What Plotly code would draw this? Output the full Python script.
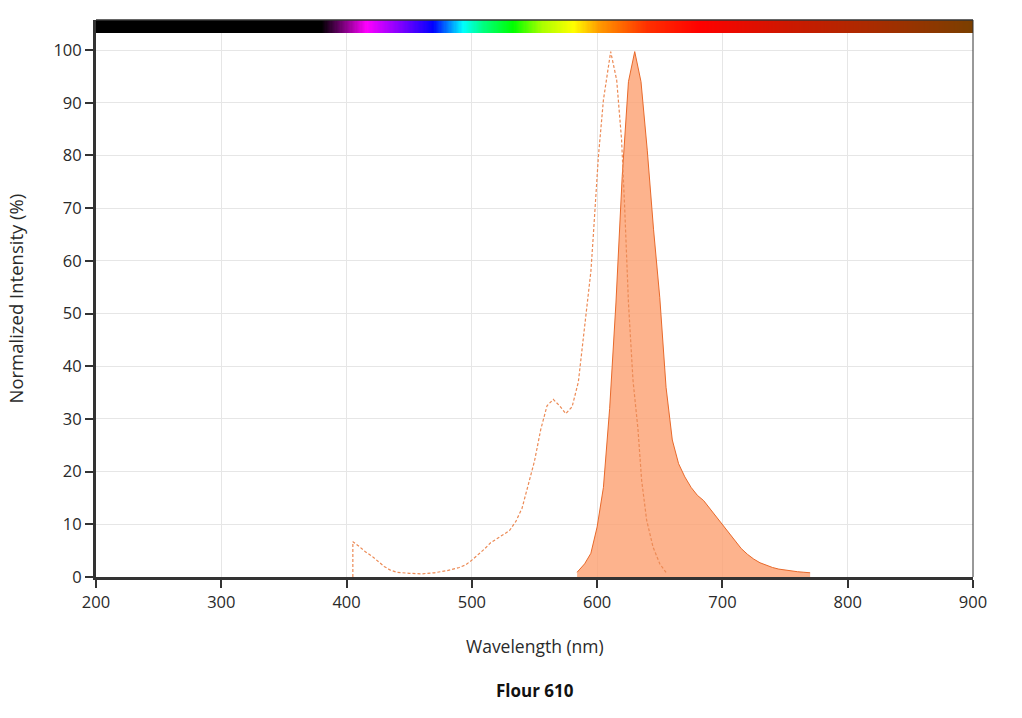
import numpy as np
import plotly.graph_objects as go

# Emission spectrum (filled)
em_wl = [584, 586, 590, 595, 600, 605, 610, 615, 617.7, 620, 625, 630, 635, 640, 645, 650, 655, 660,
         665, 670, 675, 680, 685, 690, 695, 700, 705, 710, 715, 720, 725, 730, 735, 740, 745, 750,
         755, 760, 765, 770]
em_val = [0.9, 1.5, 2.5, 4.5, 9.5, 17, 32, 52, 64, 76, 94, 99.7, 94, 81, 66, 53, 36, 26,
          21.5, 19, 17, 15.5, 14.5, 13, 11.5, 10, 8.5, 6.8, 5.4, 4.3, 3.4, 2.7, 2.2, 1.8, 1.5, 1.3,
          1.1, 1.0, 0.9, 0.8]

# Excitation spectrum (dashed)
ex_wl = [405, 405, 410, 415, 420, 425, 430, 435, 440, 450, 460, 470, 480, 490, 495, 500, 505, 510,
         515, 520, 525, 530, 535, 540, 545, 550, 555, 560, 565, 570, 575, 580, 585, 590, 595, 597,
         601, 605, 610.8, 615.6, 619.5, 622, 625, 628.6, 632.6, 635.5, 639.5, 644.6, 650, 655.5]
ex_val = [0, 6.7, 5.8, 4.8, 4.0, 3.0, 2.0, 1.3, 0.9, 0.7, 0.6, 0.8, 1.2, 1.8, 2.3, 3.2, 4.2, 5.3,
          6.5, 7.3, 8.0, 8.8, 10.5, 13, 17.5, 22, 28, 32.5, 33.7, 32.5, 31, 32.3, 37, 47, 58, 65,
          79.8, 90.5, 99.7, 94.3, 83, 70, 52, 37.4, 28, 18.4, 10.8, 5.7, 2.5, 0.7]

# Spectrum bar color stops (wavelength nm, colour)
bar_wl = [200, 380, 395, 416, 443, 469, 493, 509, 533, 556, 581, 602, 640, 682, 754, 807, 900]
bar_col = ["#000000", "#000000", "#6a006a", "#ff00ff", "#8000ff", "#0000ff", "#00ffff", "#00ff80",
           "#00ff00", "#aaff00", "#ffff00", "#ff9900", "#ff3000", "#ff0000", "#cc1800", "#b02800",
           "#7a3f00"]

x_ticks = [200, 300, 400, 500, 600, 700, 800, 900]
y_ticks = [0, 10, 20, 30, 40, 50, 60, 70, 80, 90, 100]

X_MIN, X_MAX = 200, 900
Y_MAX = 105.7
BAR_LOW = 103.3

LINE = "#e8692a"
FILL = "rgba(252,160,112,0.8)"
AX = "#333333"
TXT = "#2a2a2a"
FONT = "Open Sans, Segoe UI, sans-serif"

fig = go.Figure()

# spectrum bar as heatmap
edges = np.arange(X_MIN, X_MAX + 1, 1.0)
centers = (edges[:-1] + edges[1:]) / 2
cs = [[(w - X_MIN) / (X_MAX - X_MIN), c] for w, c in zip(bar_wl, bar_col)]
fig.add_trace(go.Heatmap(
    x=edges, y=[BAR_LOW, Y_MAX], z=[centers], colorscale=cs, zmin=X_MIN, zmax=X_MAX,
    showscale=False, hoverinfo="skip"))

fig.add_trace(go.Scatter(
    x=em_wl, y=em_val, mode="lines", fill="tozeroy", fillcolor=FILL,
    line=dict(color=LINE, width=1), name="Emission"))

fig.add_trace(go.Scatter(
    x=ex_wl, y=ex_val, mode="lines",
    line=dict(color="#ec8a55", width=1.2, dash="3px,2px"), name="Excitation"))

fig.update_layout(
    width=1022, height=718,
    margin=dict(l=96, r=49, t=20, b=141),
    paper_bgcolor="white", plot_bgcolor="white",
    showlegend=False,
    font=dict(family=FONT, size=16, color=TXT),
    xaxis=dict(range=[X_MIN, X_MAX], tickvals=x_ticks, ticks="outside", ticklen=8,
               tickwidth=2, tickcolor=AX, showline=True, linewidth=3, linecolor=AX,
               showgrid=True, gridcolor="#e6e6e6", gridwidth=1, zeroline=False,
               tickfont=dict(size=16.5, color=TXT, family=FONT)),
    yaxis=dict(range=[0, Y_MAX], tickvals=y_ticks, ticks="outside", ticklen=8,
               tickwidth=2, tickcolor=AX, showline=True, linewidth=3, linecolor=AX,
               showgrid=True, gridcolor="#e6e6e6", gridwidth=1, zeroline=False,
               tickfont=dict(size=16.5, color=TXT, family=FONT)),
    annotations=[
        dict(text="Wavelength (nm)", xref="paper", yref="paper", x=0.5, y=(577 - 646) / 557,
             xanchor="center", yanchor="middle", showarrow=False,
             font=dict(size=17.5, color=TXT, family=FONT)),
        dict(text="Normalized Intensity (%)", xref="paper", yref="paper",
             x=(15 - 96) / 877, y=0.5, textangle=-90, xanchor="center", yanchor="middle",
             showarrow=False, font=dict(size=18.5, color=TXT, family=FONT)),
        dict(text="<b>Flour 610</b>", xref="paper", yref="paper", x=0.5, y=(577 - 690) / 557,
             xanchor="center", yanchor="middle", showarrow=False,
             font=dict(size=17, color="#111111", family=FONT)),
    ],
    shapes=[
        dict(type="line", xref="paper", yref="paper", x0=1, x1=1, y0=0, y1=1,
             line=dict(color=AX, width=1)),
        dict(type="line", xref="paper", yref="paper", x0=0, x1=1, y0=1, y1=1,
             line=dict(color=AX, width=1.5)),
    ],
)

fig.write_html("out.html")
